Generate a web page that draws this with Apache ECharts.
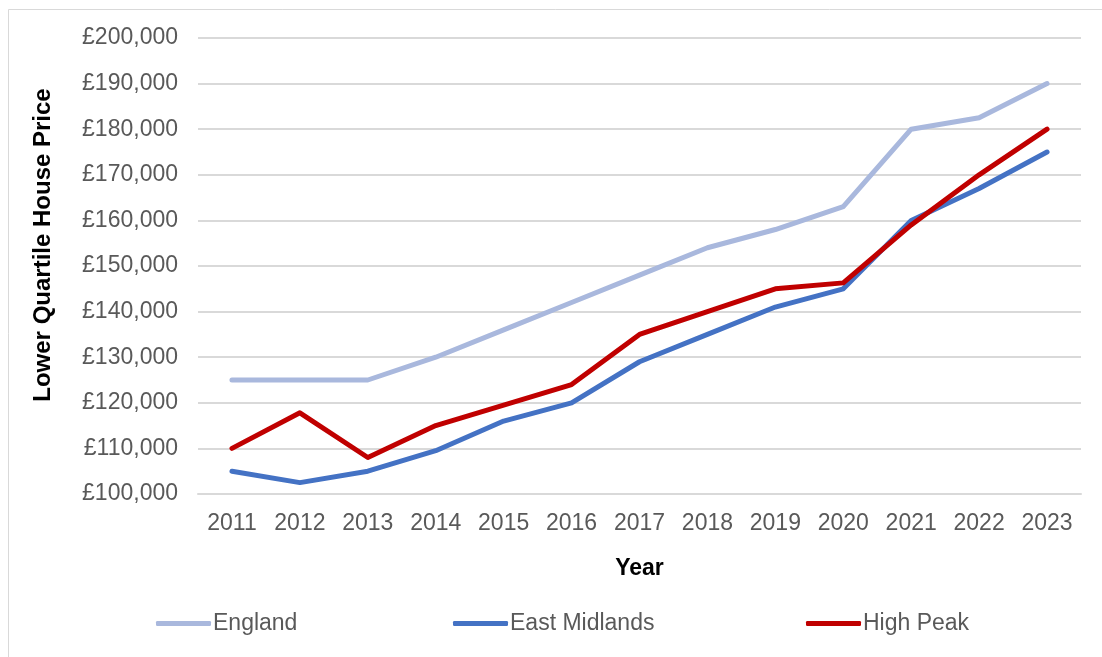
<!DOCTYPE html>
<html>
<head>
<meta charset="utf-8">
<script src="https://cdn.jsdelivr.net/npm/echarts@6/dist/echarts.min.js"></script>
<style>
  html, body { margin: 0; padding: 0; background: #fff; }
  #chart { width: 1102px; height: 657px; }
</style>
</head>
<body>
<div id="chart"></div>
<script>
// Lower quartile house prices, 2011–2023
const years = ['2011','2012','2013','2014','2015','2016','2017','2018','2019','2020','2021','2022','2023'];
const england = [125000,125000,125000,130000,136000,142000,148000,154000,158000,163000,180000,182500,190000];
const eastMidlands = [105000,102500,105000,109500,116000,120000,129000,135000,141000,145000,160000,167000,175000];
const highPeak = [110000,117800,108000,115000,119500,124000,135000,140000,145000,146300,159000,170000,180000];

const FONT = '"Liberation Sans", Arial, sans-serif';
const TEXT = '#595959';
const GRID = '#D9D9D9';

const seriesDefs = [
  { name: 'England', data: england, color: '#A9B8DD' },
  { name: 'East Midlands', data: eastMidlands, color: '#4472C4' },
  { name: 'High Peak', data: highPeak, color: '#C00000' }
];
const legendLefts = [151, 448, 801];

const chart = echarts.init(document.getElementById('chart'));
chart.setOption({
  animation: false,
  backgroundColor: '#fff',
  textStyle: { fontFamily: FONT },
  graphic: [{
    type: 'rect',
    shape: { x: 8.5, y: 9.5, width: 1200, height: 700 },
    style: { fill: 'none', stroke: GRID, lineWidth: 1 },
    silent: true
  }],
  grid: { left: 198, right: 21, top: 38, bottom: 163 },
  legend: seriesDefs.map((s, i) => ({
    data: [s.name],
    left: legendLefts[i],
    top: 607,
    itemWidth: 55,
    itemHeight: 5,
    itemGap: 0,
    icon: 'roundRect',
    textStyle: { color: TEXT, fontSize: 23, fontFamily: FONT, padding: [0, 0, 0, -3] }
  })),
  xAxis: {
    type: 'category',
    data: years,
    boundaryGap: true,
    name: 'Year',
    nameLocation: 'middle',
    nameGap: 63,
    nameTextStyle: { color: '#000', fontSize: 23, fontWeight: 'bold', fontFamily: FONT },
    axisLine: { lineStyle: { color: GRID, width: 2 } },
    axisTick: { show: false },
    axisLabel: { color: TEXT, fontSize: 23, margin: 18, fontFamily: FONT }
  },
  yAxis: {
    type: 'value',
    min: 100000,
    max: 200000,
    interval: 10000,
    name: 'Lower Quartile House Price',
    nameLocation: 'middle',
    nameGap: 143,
    nameTextStyle: {
      color: '#000', fontSize: 24, fontWeight: 'bold', fontFamily: FONT,
      padding: [0, 0, 0, 42]
    },
    axisLine: { show: false },
    axisTick: { show: false },
    splitLine: { lineStyle: { color: GRID, width: 2 } },
    axisLabel: {
      color: TEXT, fontSize: 23, margin: 20, fontFamily: FONT,
      formatter: v => '£' + v.toLocaleString('en-GB')
    }
  },
  series: seriesDefs.map(s => ({
    name: s.name,
    type: 'line',
    data: s.data,
    symbol: 'none',
    lineStyle: { color: s.color, width: 5, cap: 'round', join: 'round' },
    itemStyle: { color: s.color }
  }))
});
</script>
</body>
</html>
